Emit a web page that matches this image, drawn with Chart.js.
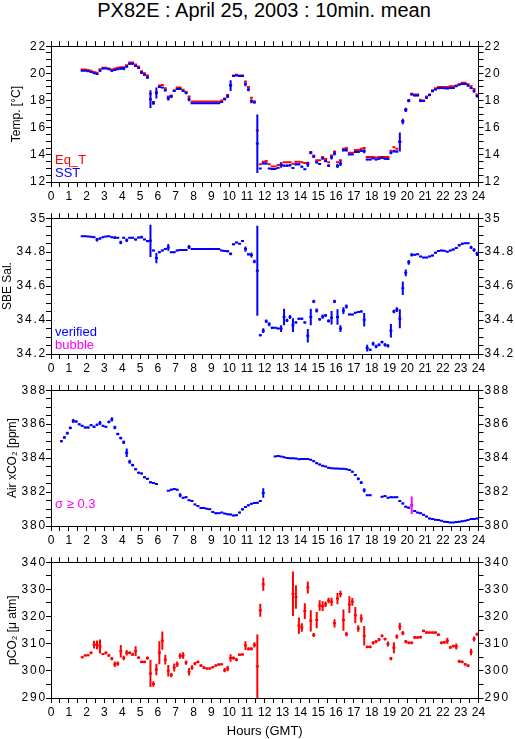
<!DOCTYPE html>
<html><head><meta charset="utf-8">
<script src="https://cdn.jsdelivr.net/npm/chart.js@4.4.0/dist/chart.umd.min.js"></script>
<style>
body{margin:0;background:#fff;width:515px;height:739px;overflow:hidden;position:relative;font-family:"Liberation Sans",Arial,sans-serif}
#title{position:absolute;left:0;top:0;width:528px;text-align:center;font-size:20px;line-height:20px;color:#000}
canvas{position:absolute;left:0}
</style></head><body>
<div id="title">PX82E : April 25, 2003 : 10min. mean</div>
<canvas id="c0" width="525" height="172" style="top:38px"></canvas>
<canvas id="c1" width="525" height="172" style="top:210px"></canvas>
<canvas id="c2" width="525" height="172" style="top:382px"></canvas>
<canvas id="c3" width="525" height="185" style="top:554px"></canvas>
<script>
// ---- data: 10-minute means, centre of first interval given by *Start (hours GMT) ----
const hourTicks = [0,1,2,3,4,5,6,7,8,9,10,11,12,13,14,15,16,17,18,19,20,21,22,23,24];
const tempTicks = [12,14,16,18,20,22];
const salTicks = [34.2,34.4,34.6,34.8,35];
const xco2Ticks = [380,382,384,386,388];
const pco2Ticks = [290,300,310,320,330,340];

const tStart = 1.75;
const sst = [20.2,20.2,
 20.15,20.1,20.0,19.95,20.2,20.35,
 20.35,20.3,20.2,20.25,20.3,20.35,
 20.35,20.5,20.7,20.7,20.55,20.4,
 20.05,19.9,19.7,18.1,17.8,18.55,
 19.0,18.95,18.75,18.15,18.3,18.7,
 18.85,18.85,18.7,18.55,18.1,17.8,
 17.8,17.8,17.8,17.8,17.8,17.8,
 17.8,17.8,17.8,17.9,18.1,18.3,
 19.1,19.8,19.85,19.8,19.8,19.2,
 18.8,17.95,17.85,14.82,13.0,13.37,
 13.37,13.0,12.96,12.96,13.05,13.25,
 13.2,13.2,13.23,13.03,13.3,13.3,
 13.13,12.94,13.3,14.15,13.86,13.45,
 13.33,13.74,13.54,13.2,13.81,14.1,
 13.18,13.37,14.34,14.34,14.03,14.03,
 14.2,14.2,14.3,14.27,13.66,13.66,
 13.74,13.66,13.71,13.78,13.71,13.69,
 14.15,14.27,14.24,14.94,16.46,17.31,
 17.99,18.45,18.37,18.37,17.96,17.96,
 18.2,18.4,18.69,18.81,18.9,18.93,
 18.9,18.88,18.93,18.93,19.05,19.17,
 19.22,19.22,19.1,18.93,18.69,18.33];
const sstSigma = [0.03,0.03,
 0.03,0.05,0.05,0.06,0.06,0.05,
 0.03,0.05,0.06,0.08,0.05,0.08,
 0.12,0.08,0.08,0.06,0.06,0.06,
 0.08,0.08,0.1,0.65,0.12,0.4,
 0.06,0.05,0.08,0.15,0.12,0.08,
 0.05,0.05,0.06,0.08,0.15,0.03,
 0.02,0.02,0.02,0.02,0.02,0.02,
 0.02,0.02,0.02,0.05,0.08,0.12,
 0.4,0.06,0.03,0.03,0.05,0.15,
 0.12,0.15,0.06,2.15,0.03,0.06,
 0.06,0.03,0.03,0.03,0.06,0.2,
 0.08,0.08,0.08,0.08,0.08,0.06,
 0.06,0.06,0.2,0.1,0.08,0.08,
 0.06,0.1,0.08,0.1,0.15,0.15,
 0.15,0.2,0.1,0.1,0.05,0.05,
 0.06,0.06,0.08,0.15,0.06,0.06,
 0.06,0.05,0.06,0.08,0.06,0.06,
 0.1,0.1,0.08,0.7,0.2,0.15,
 0.12,0.06,0.06,0.05,0.06,0.06,
 0.08,0.08,0.06,0.06,0.05,0.05,
 0.05,0.05,0.04,0.04,0.05,0.05,
 0.05,0.05,0.08,0.08,0.1,0.1];
const eqT = [20.28,20.28,
 20.25,20.2,20.1,20.05,20.3,20.42,
 20.42,20.35,20.28,20.35,20.42,20.45,
 20.45,20.6,20.8,20.8,20.65,20.5,
 20.15,20.0,19.85,18.5,17.9,18.6,
 19.1,19.15,18.9,18.3,18.35,18.75,
 18.95,18.95,18.8,18.65,18.3,17.93,
 17.93,17.93,17.93,17.93,17.93,17.93,
 17.93,17.93,17.93,18.0,18.15,18.4,
 19.15,19.85,19.9,19.85,19.85,19.4,
 19.0,18.2,17.95,15.8,13.3,13.5,
 13.55,13.3,13.15,13.15,13.25,13.3,
 13.45,13.45,13.45,13.35,13.5,13.5,
 13.45,13.4,13.4,14.2,13.95,13.6,
 13.6,13.85,13.7,13.45,13.95,14.25,
 13.45,13.6,14.45,14.5,14.15,14.15,
 14.35,14.35,14.45,14.5,13.85,13.85,
 13.85,13.8,13.85,13.85,13.85,13.85,
 14.3,14.55,14.45,14.98,16.5,17.35,
 18.0,18.5,18.45,18.45,18.05,18.0,
 18.3,18.45,18.75,18.9,19.0,19.0,
 19.0,19.0,19.05,19.05,19.1,19.2,
 19.3,19.3,19.2,19.05,18.85,18.45];

const sal = [34.894,34.894,
 34.892,34.89,34.888,34.873,34.88,34.888,
 34.892,34.894,34.888,34.885,34.885,34.857,
 34.885,34.87,34.885,34.885,34.875,34.886,
 34.888,34.875,34.865,34.867,34.81,34.765,
 34.8,34.81,34.818,34.828,34.8,34.8,
 34.81,34.812,34.812,34.812,34.83,34.818,
 34.818,34.818,34.818,34.818,34.818,34.818,
 34.818,34.818,34.818,34.81,34.807,34.805,
 34.79,34.846,34.857,34.85,34.865,34.818,
 34.787,34.783,34.745,34.69,34.31,34.337,
 34.393,34.375,34.354,34.354,34.35,34.35,
 34.418,34.398,34.418,34.37,34.385,34.408,
 34.408,34.385,34.308,34.418,34.51,34.456,
 34.404,34.42,34.427,34.395,34.414,34.51,
 34.418,34.35,34.456,34.48,34.433,34.433,
 34.443,34.447,34.45,34.402,34.235,34.225,
 34.26,34.244,34.254,34.27,34.254,34.248,
 34.337,34.45,34.462,34.408,34.587,34.678,
 34.74,34.784,34.784,34.788,34.775,34.768,
 34.768,34.775,34.78,34.797,34.807,34.81,
 34.808,34.803,34.81,34.815,34.825,34.84,
 34.85,34.852,34.852,34.828,34.813,34.79];
const salSigma = [0.002,0.002,
 0.002,0.002,0.004,0.01,0.006,0.004,
 0.003,0.003,0.004,0.008,0.004,0.01,
 0.004,0.01,0.004,0.004,0.006,0.004,
 0.008,0.004,0.006,0.095,0.004,0.03,
 0.006,0.004,0.006,0.02,0.004,0.004,
 0.004,0.003,0.003,0.004,0.012,0.003,
 0.002,0.002,0.002,0.002,0.002,0.002,
 0.002,0.002,0.002,0.004,0.006,0.006,
 0.008,0.006,0.004,0.004,0.004,0.015,
 0.006,0.015,0.01,0.265,0.006,0.014,
 0.01,0.012,0.006,0.004,0.004,0.02,
 0.048,0.01,0.012,0.04,0.006,0.006,
 0.006,0.006,0.04,0.048,0.01,0.012,
 0.008,0.012,0.008,0.01,0.04,0.01,
 0.045,0.02,0.02,0.012,0.004,0.004,
 0.004,0.004,0.006,0.04,0.02,0.006,
 0.012,0.01,0.008,0.008,0.01,0.01,
 0.04,0.01,0.014,0.056,0.04,0.02,
 0.014,0.01,0.004,0.004,0.004,0.004,
 0.004,0.004,0.006,0.006,0.006,0.004,
 0.004,0.004,0.004,0.006,0.006,0.006,
 0.006,0.004,0.004,0.01,0.01,0.012];

const airStart = 0.5833;
const airXco2 = [384.99,385.22,385.47,
 385.78,386.19,386.15,385.99,385.9,385.8,
 385.8,385.94,385.84,385.96,386.07,385.9,
 385.84,386.13,386.28,385.8,385.42,385.18,
 384.93,384.32,383.78,383.59,383.35,383.14,
 383.1,382.87,382.78,382.58,382.53,382.47,
 null,null,null,382.08,382.14,382.18,
 382.14,381.81,381.66,381.7,381.52,381.47,
 381.27,381.18,381.06,381.06,381.02,380.98,
 380.83,380.75,380.75,380.79,380.73,380.69,
 380.68,380.62,380.64,380.79,380.98,381.12,
 381.22,381.31,381.35,381.37,381.47,381.95,
 null,null,null,384.1,384.12,384.1,
 384.05,384.0,383.99,383.99,383.98,383.93,
 383.95,383.94,383.95,383.9,383.82,383.7,
 383.62,383.55,383.5,383.43,383.4,383.39,
 383.38,383.37,383.37,383.35,383.3,383.2,
 383.01,382.78,382.56,382.1,381.81,381.81,
 null,null,null,381.72,381.76,381.66,
 381.7,381.7,381.7,381.47,381.33,381.14,
 381.08,381.22,380.89,380.79,380.75,380.66,
 380.56,380.44,380.41,380.37,380.35,380.31,
 380.25,380.23,380.21,380.21,380.23,380.25,
 380.28,380.31,380.35,380.41,380.41,380.44];
const airSigma = [0.06,0.08,0.08,
 0.08,0.12,0.06,0.05,0.05,0.06,
 0.06,0.05,0.06,0.06,0.12,0.05,
 0.05,0.08,0.12,0.1,0.08,0.08,
 0.1,0.25,0.12,0.08,0.06,0.05,
 0.05,0.05,0.05,0.06,0.05,0.05,
 null,null,null,0.03,0.05,0.04,
 0.05,0.12,0.05,0.05,0.04,0.04,
 0.04,0.04,0.04,0.03,0.04,0.04,
 0.04,0.04,0.03,0.03,0.04,0.04,
 0.04,0.04,0.04,0.05,0.06,0.06,
 0.05,0.05,0.05,0.05,0.06,0.28,
 null,null,null,0.04,0.03,0.03,
 0.03,0.03,0.03,0.03,0.03,0.03,
 0.03,0.03,0.03,0.03,0.04,0.05,
 0.04,0.04,0.03,0.04,0.03,0.03,
 0.03,0.03,0.03,0.03,0.04,0.05,
 0.06,0.08,0.08,0.12,0.05,0.04,
 null,null,null,0.04,0.04,0.04,
 0.04,0.03,0.04,0.05,0.05,0.05,
 0.05,0.52,0.05,0.04,0.04,0.04,
 0.04,0.04,0.04,0.03,0.03,0.03,
 0.03,0.03,0.03,0.03,0.03,0.03,
 0.03,0.03,0.03,0.04,0.03,0.04];
const sigmaFlag = 0.3;

const pco2 = [304.96,305.69,
 305.7,306.65,309.67,309.55,308.95,306.17,
 306.65,305.69,304.48,302.43,302.67,307.25,
 304.72,306.65,306.65,306.05,307.25,304.84,
 303.27,303.27,304.72,299.05,295.18,300.5,
 306.65,311.12,304.12,300.02,298.44,301.22,
 302.43,305.45,305.69,303.03,299.65,301.22,
 302.67,303.27,301.94,301.22,300.86,300.86,
 301.34,301.94,302.3,302.43,300.25,300.86,
 304.72,304.72,304.12,305.93,306.05,309.31,
 308.1,308.1,309.55,301.7,322.3,331.9,
 null,null,null,null,null,null,
 null,null,null,328.4,327.2,316.6,
 315.95,322.0,330.7,318.4,313.2,318.7,
 324.05,323.8,324.5,325.9,325.4,317.5,
 326.6,328.3,318.7,313.5,324.4,325.4,
 320.5,315.6,319.3,312.9,308.8,308.8,
 310.3,310.8,311.5,312.9,311.7,309.9,
 304.5,308.5,312.6,316.3,313.9,310.8,
 310.3,310.3,312.3,312.3,312.4,314.7,
 314.1,314.1,314.1,314.1,313.3,310.3,
 310.5,311.1,308.6,309.1,309.0,303.5,
 303.3,302.4,301.9,306.9,311.7,313.5];
const pco2Sigma = [0.3,0.3,
 0.3,0.5,1.4,1.6,2.6,0.3,
 0.5,0.5,0.6,1.0,0.8,2.3,
 0.8,1.0,0.5,0.6,1.8,0.5,
 0.5,0.5,0.6,5.0,1.0,2.1,
 4.2,3.4,1.8,2.1,0.8,1.5,
 1.0,1.0,1.2,0.8,1.4,0.8,
 0.6,0.5,0.5,0.5,0.4,0.4,
 0.4,0.4,0.4,0.4,0.8,1.0,
 1.4,0.6,0.6,0.5,0.4,1.6,
 0.6,0.6,1.0,11.7,2.4,2.4,
 null,null,null,null,null,null,
 null,null,null,8.2,4.3,3.0,
 1.6,2.9,2.2,3.9,0.7,3.0,
 1.9,1.8,1.0,1.0,1.5,1.5,
 2.1,1.2,3.9,0.8,3.1,1.4,
 3.0,1.2,1.5,3.6,0.5,0.5,
 0.6,0.6,0.6,0.5,0.5,0.9,
 0.6,2.0,0.8,1.4,0.8,0.6,
 0.5,0.5,0.5,0.5,0.5,0.5,
 0.5,0.4,0.4,0.4,0.5,0.5,
 0.5,1.1,0.5,0.5,1.1,0.6,
 0.5,0.5,0.5,1.2,0.9,0.5];

// ---- helpers ----
const STEP = 1/6, HALF = 1/12;
const RED = '#ff0000', BLUE = '#0000ff', MAG = '#ff00ff';
const FONT = '"Liberation Sans", Arial, Helvetica, sans-serif';
Chart.defaults.font.family = FONT;
Chart.defaults.color = '#000';

function hSeg(t0, vals) {
  const d = [];
  vals.forEach((v, i) => {
    if (v == null) return;
    const t = t0 + i * STEP;
    d.push({x: t - HALF, y: v}, {x: t + HALF, y: v}, {x: t + HALF, y: null});
  });
  return d;
}
function vSeg(t0, vals, sig, keep) {
  const d = [];
  vals.forEach((v, i) => {
    const s = sig[i];
    if (v == null || s == null || !keep(s)) return;
    const t = t0 + i * STEP;
    d.push({x: t, y: v - s}, {x: t, y: v + s}, {x: t, y: null});
  });
  return d;
}
function ds(data, color, order) {
  return {data, borderColor: color, backgroundColor: color, borderWidth: 2, pointRadius: 0,
    spanGaps: false, tension: 0, clip: 0, order, borderCapStyle: 'butt'};
}

const notePlugin = {
  id: 'notes',
  afterUpdate(chart) {
    ['y', 'y2'].forEach(id => {
      const sc = chart.scales[id];
      if (sc && !sc._lsPatched) {
        const orig = sc.drawLabels.bind(sc);
        sc.drawLabels = function (area) {
          const ctx = this.ctx;
          ctx.save();
          try { ctx.letterSpacing = '1.8px'; } catch (e) {}
          orig(area);
          ctx.restore();
        };
        sc._lsPatched = true;
      }
    });
  },
  afterDraw(chart, args, opts) {
    const {ctx, chartArea} = chart;
    (opts.items || []).forEach(it => {
      ctx.save();
      ctx.font = '13px ' + FONT;
      ctx.fillStyle = it.color;
      ctx.textBaseline = 'alphabetic';
      ctx.textAlign = 'left';
      ctx.fillText(it.text, chartArea.left + 4, chartArea.bottom - it.dy);
      ctx.restore();
    });
  }
};

function labelFrom(ticks) {
  return v => ticks.some(t => Math.abs(t - v) < 1e-6) ? String(+v.toFixed(2)) : '';
}

function makeChart(id, p) {
  const gridOpt = {drawOnChartArea: false, drawTicks: true, tickLength: 5, color: '#000', lineWidth: 1};
  const border = {display: true, color: '#000', width: 1};
  const xBase = {type: 'linear', min: 0, max: 24, grid: gridOpt, border};
  const xTicks = {stepSize: 0.5, autoSkip: false, maxRotation: 0, minRotation: 0, maxTicksLimit: 100,
    font: {size: 12}, color: '#000', padding: 2, callback: labelFrom(hourTicks)};
  const yTicks = {stepSize: p.step, autoSkip: false, maxTicksLimit: 100, font: {size: 12}, color: '#000',
    callback: labelFrom(p.ticks)};
  return new Chart(document.getElementById(id), {
    type: 'line',
    data: {datasets: p.datasets},
    options: {
      responsive: false, animation: false, devicePixelRatio: 1,
      layout: {padding: 0},
      plugins: {legend: {display: false}, tooltip: {enabled: false}, notes: {items: p.notes}},
      scales: {
        x: Object.assign({}, xBase, {position: 'bottom', ticks: xTicks,
          title: p.xTitle ? {display: true, text: p.xTitle, font: {size: 13}, color: '#000', padding: 0} : {display: false},
          afterFit: s => { s.height = p.xh; }}),
        x2: Object.assign({}, xBase, {position: 'top', ticks: Object.assign({}, xTicks, {display: false}),
          afterFit: s => { s.height = 6; }}),
        y: {type: 'linear', position: 'left', min: p.min, max: p.max, grid: gridOpt, border,
          ticks: Object.assign({}, yTicks, {padding: -1}),
          title: {display: true, text: p.yTitle, font: {size: 12}, color: '#000', padding: {top: p.tpad, bottom: 0}},
          afterFit: s => { s.width = 51; }},
        y2: {type: 'linear', position: 'right', min: p.min, max: p.max, grid: gridOpt, border,
          ticks: Object.assign({}, yTicks, {padding: 1}),
          afterFit: s => { s.width = 46.5; }}
      }
    },
    plugins: [notePlugin]
  });
}

makeChart('c0', {
  min: 12, max: 22, step: 0.5, ticks: tempTicks, yTitle: 'Temp. [°C]', tpad: 9, xh: 28,
  datasets: [
    ds(hSeg(tStart, sst), BLUE, 0), ds(vSeg(tStart, sst, sstSigma, () => true), BLUE, 0),
    ds(hSeg(tStart, eqT), RED, 1)
  ],
  notes: [{text: 'Eq_T', color: RED, dy: 18}, {text: 'SST', color: BLUE, dy: 5}]
});
makeChart('c1', {
  min: 34.2, max: 35, step: 0.05, ticks: salTicks, yTitle: 'SBE Sal.', tpad: 0, xh: 28,
  datasets: [
    ds(hSeg(tStart, sal), BLUE, 0), ds(vSeg(tStart, sal, salSigma, () => true), BLUE, 0)
  ],
  notes: [{text: 'verified', color: BLUE, dy: 18}, {text: 'bubble', color: MAG, dy: 5}]
});
makeChart('c2', {
  min: 380, max: 388, step: 0.5, ticks: xco2Ticks, yTitle: 'Air xCO₂ [ppm]', tpad: 5, xh: 28,
  datasets: [
    ds(hSeg(airStart, airXco2), BLUE, 1),
    ds(vSeg(airStart, airXco2, airSigma, s => s < sigmaFlag), BLUE, 1),
    ds(vSeg(airStart, airXco2, airSigma, s => s >= sigmaFlag), MAG, 0)
  ],
  notes: [{text: 'σ ≥ 0.3', color: MAG, dy: 18}]
});
makeChart('c3', {
  min: 290, max: 340, step: 5, ticks: pco2Ticks, yTitle: 'pCO₂ [μ atm]', tpad: 5, xh: 41, xTitle: 'Hours (GMT)',
  datasets: [
    ds(hSeg(tStart, pco2), RED, 0), ds(vSeg(tStart, pco2, pco2Sigma, () => true), RED, 0)
  ],
  notes: []
});
</script>
</body></html>
